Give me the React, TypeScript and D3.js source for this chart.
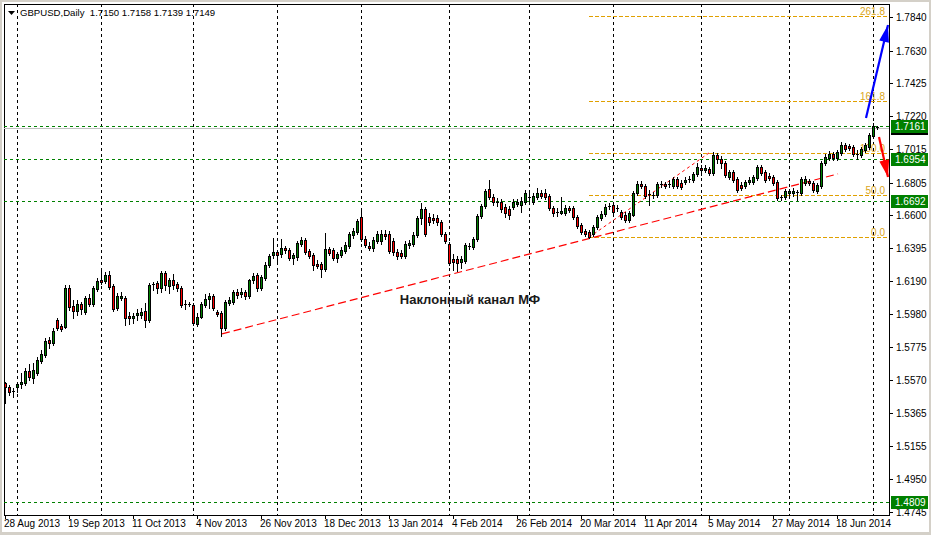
import React from "react";
import * as d3 from "d3";

const W = 931;
const H = 535;

// Daily GBPUSD candles [open, high, low, close], 28 Aug 2013 .. early Jul 2014
const ohlc: [number, number, number, number][] = [
  [1.5552, 1.5559, 1.5427, 1.5528], [1.5528, 1.5540, 1.5478, 1.5496], [1.5503, 1.5521, 1.5465, 1.5496], [1.5528, 1.5559, 1.5496, 1.5546],
  [1.5546, 1.5615, 1.5521, 1.5559], [1.5553, 1.5646, 1.5540, 1.5628], [1.5628, 1.5671, 1.5571, 1.5590], [1.5584, 1.5678, 1.5553, 1.5634],
  [1.5615, 1.5715, 1.5603, 1.5696], [1.5690, 1.5759, 1.5678, 1.5734], [1.5728, 1.5834, 1.5715, 1.5815], [1.5821, 1.5840, 1.5771, 1.5803],
  [1.5803, 1.5896, 1.5790, 1.5878], [1.5946, 1.5959, 1.5884, 1.5896], [1.5909, 1.5921, 1.5878, 1.5890], [1.5903, 1.6165, 1.5896, 1.6146],
  [1.6146, 1.6165, 1.6009, 1.6028], [1.6034, 1.6071, 1.5959, 1.6003], [1.6003, 1.6071, 1.5978, 1.6046], [1.6046, 1.6059, 1.5984, 1.6015],
  [1.5996, 1.6096, 1.5984, 1.6084], [1.6084, 1.6109, 1.6034, 1.6046], [1.6046, 1.6159, 1.6034, 1.6146], [1.6140, 1.6209, 1.6128, 1.6190],
  [1.6196, 1.6265, 1.6171, 1.6184], [1.6190, 1.6246, 1.6178, 1.6228], [1.6228, 1.6253, 1.6140, 1.6153], [1.6159, 1.6171, 1.6003, 1.6015],
  [1.6021, 1.6115, 1.6009, 1.6096], [1.6084, 1.6121, 1.6071, 1.6096], [1.6084, 1.6096, 1.5915, 1.5959], [1.5971, 1.5996, 1.5921, 1.5959],
  [1.5959, 1.5990, 1.5928, 1.5971], [1.5978, 1.6015, 1.5946, 1.5990], [1.5978, 1.6021, 1.5959, 1.5996], [1.6003, 1.6053, 1.5903, 1.5946],
  [1.5946, 1.6178, 1.5934, 1.6165], [1.6165, 1.6184, 1.6134, 1.6171], [1.6178, 1.6190, 1.6115, 1.6146], [1.6146, 1.6253, 1.6121, 1.6240],
  [1.6240, 1.6253, 1.6134, 1.6165], [1.6159, 1.6209, 1.6115, 1.6196], [1.6196, 1.6234, 1.6140, 1.6165], [1.6171, 1.6184, 1.6128, 1.6146],
  [1.6146, 1.6159, 1.6028, 1.6040], [1.6046, 1.6071, 1.6015, 1.6040], [1.6040, 1.6059, 1.6034, 1.6046], [1.6040, 1.6053, 1.5915, 1.5928],
  [1.5921, 1.5990, 1.5909, 1.5965], [1.5965, 1.6059, 1.5959, 1.6046], [1.6040, 1.6109, 1.6028, 1.6078], [1.6078, 1.6115, 1.6021, 1.6096],
  [1.6096, 1.6109, 1.6009, 1.6021], [1.5996, 1.6009, 1.5971, 1.5984], [1.5990, 1.6003, 1.5846, 1.5896], [1.5896, 1.6071, 1.5884, 1.6059],
  [1.6053, 1.6090, 1.6040, 1.6071], [1.6059, 1.6134, 1.6046, 1.6121], [1.6121, 1.6140, 1.6084, 1.6103], [1.6109, 1.6146, 1.6090, 1.6121],
  [1.6121, 1.6134, 1.6078, 1.6096], [1.6096, 1.6203, 1.6084, 1.6196], [1.6196, 1.6240, 1.6178, 1.6221], [1.6228, 1.6240, 1.6128, 1.6146],
  [1.6146, 1.6228, 1.6134, 1.6215], [1.6209, 1.6309, 1.6196, 1.6290], [1.6290, 1.6359, 1.6278, 1.6346], [1.6353, 1.6459, 1.6334, 1.6371],
  [1.6371, 1.6384, 1.6309, 1.6353], [1.6359, 1.6453, 1.6340, 1.6396], [1.6396, 1.6409, 1.6365, 1.6384], [1.6384, 1.6396, 1.6321, 1.6334],
  [1.6334, 1.6365, 1.6296, 1.6353], [1.6340, 1.6440, 1.6321, 1.6428], [1.6421, 1.6465, 1.6409, 1.6446], [1.6446, 1.6459, 1.6359, 1.6371],
  [1.6378, 1.6390, 1.6334, 1.6346], [1.6353, 1.6365, 1.6259, 1.6290], [1.6296, 1.6321, 1.6271, 1.6284], [1.6296, 1.6309, 1.6215, 1.6265],
  [1.6265, 1.6490, 1.6253, 1.6390], [1.6390, 1.6403, 1.6353, 1.6365], [1.6384, 1.6396, 1.6321, 1.6334], [1.6334, 1.6371, 1.6309, 1.6359],
  [1.6353, 1.6403, 1.6340, 1.6384], [1.6378, 1.6434, 1.6365, 1.6415], [1.6409, 1.6496, 1.6396, 1.6484], [1.6478, 1.6521, 1.6459, 1.6503],
  [1.6496, 1.6578, 1.6484, 1.6565], [1.6590, 1.6628, 1.6440, 1.6453], [1.6453, 1.6471, 1.6403, 1.6415], [1.6409, 1.6434, 1.6384, 1.6396],
  [1.6396, 1.6465, 1.6378, 1.6446], [1.6440, 1.6503, 1.6428, 1.6484], [1.6440, 1.6509, 1.6421, 1.6484], [1.6484, 1.6509, 1.6453, 1.6471],
  [1.6484, 1.6503, 1.6365, 1.6378], [1.6440, 1.6459, 1.6353, 1.6371], [1.6371, 1.6390, 1.6328, 1.6346], [1.6365, 1.6384, 1.6334, 1.6346],
  [1.6346, 1.6440, 1.6334, 1.6421], [1.6415, 1.6446, 1.6396, 1.6428], [1.6421, 1.6496, 1.6409, 1.6478], [1.6478, 1.6596, 1.6465, 1.6584],
  [1.6584, 1.6678, 1.6546, 1.6640], [1.6640, 1.6653, 1.6471, 1.6484], [1.6590, 1.6615, 1.6540, 1.6559], [1.6584, 1.6609, 1.6553, 1.6571],
  [1.6584, 1.6603, 1.6540, 1.6559], [1.6559, 1.6571, 1.6471, 1.6484], [1.6484, 1.6496, 1.6428, 1.6440], [1.6421, 1.6434, 1.6290, 1.6303],
  [1.6328, 1.6359, 1.6259, 1.6309], [1.6328, 1.6346, 1.6253, 1.6303], [1.6309, 1.6346, 1.6271, 1.6328], [1.6315, 1.6428, 1.6303, 1.6415],
  [1.6409, 1.6428, 1.6390, 1.6403], [1.6403, 1.6465, 1.6390, 1.6453], [1.6453, 1.6609, 1.6440, 1.6596], [1.6596, 1.6671, 1.6584, 1.6659],
  [1.6659, 1.6765, 1.6646, 1.6753], [1.6765, 1.6821, 1.6703, 1.6715], [1.6715, 1.6734, 1.6665, 1.6684], [1.6684, 1.6709, 1.6659, 1.6678],
  [1.6684, 1.6703, 1.6621, 1.6640], [1.6653, 1.6671, 1.6590, 1.6615], [1.6640, 1.6659, 1.6578, 1.6603], [1.6653, 1.6703, 1.6640, 1.6684],
  [1.6671, 1.6703, 1.6659, 1.6684], [1.6665, 1.6715, 1.6621, 1.6690], [1.6684, 1.6759, 1.6671, 1.6740], [1.6715, 1.6740, 1.6684, 1.6709],
  [1.6684, 1.6740, 1.6671, 1.6721], [1.6715, 1.6771, 1.6703, 1.6740], [1.6740, 1.6759, 1.6709, 1.6721], [1.6740, 1.6765, 1.6703, 1.6715],
  [1.6721, 1.6734, 1.6634, 1.6646], [1.6646, 1.6659, 1.6596, 1.6615], [1.6621, 1.6646, 1.6596, 1.6615], [1.6615, 1.6715, 1.6609, 1.6628],
  [1.6615, 1.6665, 1.6603, 1.6646], [1.6646, 1.6659, 1.6621, 1.6634], [1.6646, 1.6659, 1.6578, 1.6590], [1.6590, 1.6603, 1.6521, 1.6534],
  [1.6540, 1.6553, 1.6484, 1.6496], [1.6503, 1.6515, 1.6471, 1.6484], [1.6496, 1.6509, 1.6459, 1.6465], [1.6484, 1.6540, 1.6471, 1.6528],
  [1.6528, 1.6603, 1.6515, 1.6590], [1.6584, 1.6628, 1.6571, 1.6609], [1.6609, 1.6671, 1.6596, 1.6653], [1.6653, 1.6678, 1.6640, 1.6659],
  [1.6665, 1.6684, 1.6609, 1.6621], [1.6640, 1.6665, 1.6628, 1.6646], [1.6621, 1.6634, 1.6578, 1.6590], [1.6603, 1.6621, 1.6559, 1.6571],
  [1.6571, 1.6628, 1.6559, 1.6615], [1.6603, 1.6753, 1.6596, 1.6740], [1.6740, 1.6815, 1.6728, 1.6796], [1.6796, 1.6815, 1.6771, 1.6784],
  [1.6784, 1.6796, 1.6709, 1.6721], [1.6728, 1.6759, 1.6665, 1.6734], [1.6728, 1.6746, 1.6709, 1.6721], [1.6728, 1.6809, 1.6715, 1.6796],
  [1.6790, 1.6815, 1.6778, 1.6796], [1.6796, 1.6809, 1.6771, 1.6784], [1.6790, 1.6821, 1.6778, 1.6796], [1.6784, 1.6840, 1.6771, 1.6828],
  [1.6828, 1.6840, 1.6771, 1.6784], [1.6803, 1.6821, 1.6765, 1.6778], [1.6809, 1.6840, 1.6796, 1.6821], [1.6821, 1.6846, 1.6809, 1.6828],
  [1.6821, 1.6871, 1.6809, 1.6859], [1.6859, 1.6928, 1.6846, 1.6903], [1.6896, 1.6915, 1.6853, 1.6884], [1.6884, 1.6915, 1.6871, 1.6896],
  [1.6890, 1.6903, 1.6853, 1.6865], [1.6865, 1.6996, 1.6853, 1.6978], [1.6978, 1.6990, 1.6928, 1.6953], [1.6953, 1.6971, 1.6896, 1.6928],
  [1.6928, 1.6940, 1.6840, 1.6853], [1.6840, 1.6884, 1.6828, 1.6871], [1.6871, 1.6884, 1.6809, 1.6821], [1.6828, 1.6840, 1.6746, 1.6759],
  [1.6790, 1.6809, 1.6759, 1.6771], [1.6784, 1.6821, 1.6771, 1.6809], [1.6809, 1.6840, 1.6796, 1.6821], [1.6809, 1.6853, 1.6796, 1.6840],
  [1.6834, 1.6915, 1.6821, 1.6903], [1.6903, 1.6915, 1.6853, 1.6865], [1.6871, 1.6884, 1.6809, 1.6821], [1.6846, 1.6865, 1.6821, 1.6834],
  [1.6840, 1.6853, 1.6790, 1.6803], [1.6809, 1.6821, 1.6696, 1.6709], [1.6715, 1.6728, 1.6696, 1.6709], [1.6715, 1.6765, 1.6703, 1.6753],
  [1.6740, 1.6765, 1.6728, 1.6753], [1.6740, 1.6771, 1.6721, 1.6753], [1.6746, 1.6759, 1.6696, 1.6740], [1.6740, 1.6840, 1.6728, 1.6828],
  [1.6803, 1.6846, 1.6790, 1.6828], [1.6815, 1.6828, 1.6790, 1.6803], [1.6803, 1.6815, 1.6746, 1.6759], [1.6753, 1.6803, 1.6740, 1.6790],
  [1.6784, 1.6940, 1.6771, 1.6928], [1.6928, 1.6984, 1.6915, 1.6965], [1.6959, 1.7003, 1.6946, 1.6984], [1.6984, 1.6996, 1.6946, 1.6959],
  [1.6959, 1.7009, 1.6946, 1.6996], [1.6990, 1.7059, 1.6978, 1.7040], [1.7040, 1.7053, 1.7003, 1.7015], [1.7034, 1.7046, 1.7009, 1.7021],
  [1.7028, 1.7040, 1.6971, 1.6984], [1.6984, 1.7009, 1.6953, 1.6978], [1.6978, 1.7028, 1.6965, 1.7015], [1.7009, 1.7053, 1.6996, 1.7040],
  [1.7028, 1.7115, 1.7015, 1.7103], [1.7096, 1.7178, 1.7084, 1.7159], [1.7150, 1.7158, 1.7139, 1.7149],
];

const xTickLabels = [
  "28 Aug 2013", "19 Sep 2013", "11 Oct 2013", "4 Nov 2013", "26 Nov 2013", "18 Dec 2013", "13 Jan 2014",
  "4 Feb 2014", "26 Feb 2014", "20 Mar 2014", "11 Apr 2014", "5 May 2014", "27 May 2014", "18 Jun 2014",
];
const xTickBars = [0, 16, 32, 48, 64, 80, 96, 112, 128, 144, 160, 176, 192, 208];
const monthStartBars = [3, 24, 47, 68, 89, 111, 131, 152, 174, 196, 217];
const yTicks = [1.784, 1.763, 1.7425, 1.722, 1.7015, 1.6805, 1.66, 1.6395, 1.619, 1.598, 1.5775, 1.557, 1.5365, 1.5155, 1.495, 1.4745];
const levelLines = [1.7161, 1.6954, 1.6692, 1.4809];
const bidPrice = 1.7149;
const fibLow = 1.6462;
const fibHigh = 1.699;
const fibRatios = [0, 50, 100, 161.8, 261.8];
const fibAnchorBars = [146, 176];
const channelLine: [number, number][] = [[54.25, 1.5859], [208.25, 1.6859]];
const blueArrow: [number, number][] = [[215.25, 1.7209], [220.75, 1.779]];
const redArrow: [number, number][] = [[218.5, 1.709], [220.75, 1.684]];

const title = "GBPUSD,Daily  1.7150 1.7158 1.7139 1.7149";
const channelText = "Наклонный канал МФ";

const PL = 4, PR = 889, PT = 4, PB = 515;
const FONT = "'Liberation Sans', Arial, sans-serif";

function arrowHead(x1: number, y1: number, x2: number, y2: number, len: number, half: number) {
  const a = Math.atan2(y2 - y1, x2 - x1);
  const bx = x2 - len * Math.cos(a), by = y2 - len * Math.sin(a);
  const px = -Math.sin(a) * half, py = Math.cos(a) * half;
  return `M${x2},${y2}L${bx + px},${by + py}L${bx - px},${by - py}Z`;
}

export default function App() {
  const x = d3.scaleLinear().domain([0, 218]).range([5, 877]);
  const y = d3.scaleLinear().domain([1.4745, 1.784]).range([512, 17]);
  const fmt = d3.format(".4f");

  const candles = ohlc.map(([o, h, l, c], i) => {
    const cx = Math.round(x(i));
    const top = Math.round(y(Math.max(o, c)));
    const bot = Math.round(y(Math.min(o, c)));
    const yh = Math.round(y(h));
    const yl = Math.round(y(l));
    const bull = c >= o;
    return (
      <g key={i}>
        <line x1={cx + 0.5} x2={cx + 0.5} y1={yh} y2={yl + 1} stroke="#000" strokeWidth={1} />
        {bot - top < 2 ? (
          <rect x={cx - 1} y={top} width={3} height={1} fill="#000" />
        ) : (
          <>
            <rect x={cx - 1} y={top} width={3} height={bot - top + 1} fill="#000" />
            <rect x={cx} y={top + 1} width={1} height={bot - top - 1} fill={bull ? "#008000" : "#FF0000"} />
          </>
        )}
      </g>
    );
  });

  const fibRange = fibHigh - fibLow;
  const fibX0 = Math.round(x(fibAnchorBars[0]));
  const channelPath = d3.line<[number, number]>().x((d) => x(d[0])).y((d) => y(d[1]))(channelLine) || "";

  const bA = blueArrow.map(([b, p]) => [x(b), y(p)]);
  const rA = redArrow.map(([b, p]) => [x(b), y(p)]);

  return (
    <div>
      <style>{`body{margin:0;}`}</style>
      <svg width={W} height={H} style={{ display: "block", fontFamily: FONT }}>
        <defs>
          <clipPath id="plot">
            <rect x={PL} y={PT} width={PR - PL} height={PB - PT} />
          </clipPath>
        </defs>
        <rect x={0} y={0} width={W} height={H} fill="#D4D0C8" />
        <rect x={2} y={2} width={W - 4} height={H - 5} fill="#fff" />
        <rect x={PL + 0.5} y={PT + 0.5} width={PR - PL} height={PB - PT} fill="#fff" stroke="#000" />

        <g clipPath="url(#plot)">
          {monthStartBars.map((b) => (
            <line key={b} x1={Math.round(x(b)) + 0.5} x2={Math.round(x(b)) + 0.5} y1={PT} y2={PB}
              stroke="#000" strokeDasharray="3,3" />
          ))}
          {levelLines.map((v) => (
            <line key={v} x1={PL} x2={PR} y1={Math.round(y(v)) + 0.5} y2={Math.round(y(v)) + 0.5}
              stroke="#008000" strokeDasharray="3,3" />
          ))}
          <line x1={PL} x2={PR} y1={Math.round(y(bidPrice)) + 0.5} y2={Math.round(y(bidPrice)) + 0.5} stroke="#C0C0C0" />
          {fibRatios.map((r) => {
            const yy = Math.round(y(fibLow + (r / 100) * fibRange)) + 0.5;
            return (
              <g key={r}>
                <line x1={fibX0} x2={PR} y1={yy} y2={yy} stroke="#E0A000" strokeDasharray="4,2" />
                <text x={885} y={yy - 2} textAnchor="end" fontSize={10} fill="#DAA520">{r.toFixed(1)}</text>
              </g>
            );
          })}
          <line x1={x(fibAnchorBars[0])} y1={y(fibLow)} x2={x(fibAnchorBars[1])} y2={y(fibHigh)}
            stroke="#FF0000" strokeDasharray="3,3" />
          <path d={channelPath} fill="none" stroke="#FF0000" strokeWidth={1.2} strokeDasharray="8,4" />
          {candles}
          <line x1={bA[0][0]} y1={bA[0][1]} x2={bA[1][0]} y2={bA[1][1]} stroke="#0000FF" strokeWidth={2.2} />
          <path d={arrowHead(bA[0][0], bA[0][1], bA[1][0], bA[1][1], 17, 5)} fill="#0000FF" />
          <line x1={rA[0][0]} y1={rA[0][1]} x2={rA[1][0]} y2={rA[1][1]} stroke="#FF0000" strokeWidth={2.2} />
          <path d={arrowHead(rA[0][0], rA[0][1], rA[1][0], rA[1][1], 17, 5)} fill="#FF0000" />
          <text x={470} y={304} textAnchor="middle" fontSize={13} fontWeight="bold" fill="#1a1a1a">{channelText}</text>
          <path d="M8,11L15,11L11.5,15Z" fill="#000" />
          <text x={20} y={16} fontSize={9.6} fill="#000" style={{ whiteSpace: "pre" }}>{title}</text>
        </g>

        {yTicks.map((v) => (
          <g key={v}>
            <line x1={PR} x2={PR + 4} y1={Math.round(y(v)) + 0.5} y2={Math.round(y(v)) + 0.5} stroke="#000" />
            <text x={896} y={Math.round(y(v)) + 4} fontSize={10} fill="#000">{fmt(v)}</text>
          </g>
        ))}
        <rect x={891} y={Math.round(y(bidPrice)) - 5} width={37} height={12} fill="#000" />
        {levelLines.map((v) => {
          const yy = Math.round(y(v));
          return (
            <g key={v}>
              <rect x={891} y={yy - 6} width={37} height={13} fill="#008000" />
              <text x={895} y={yy + 4} fontSize={10} fill="#fff">{fmt(v)}</text>
            </g>
          );
        })}

        {xTickBars.map((b, k) => (
          <g key={b}>
            <line x1={Math.round(x(b)) + 0.5} x2={Math.round(x(b)) + 0.5} y1={PB} y2={PB + 4} stroke="#000" />
            <text x={Math.round(x(b)) - 1} y={527} fontSize={10} fill="#000">{xTickLabels[k]}</text>
          </g>
        ))}
      </svg>
    </div>
  );
}
